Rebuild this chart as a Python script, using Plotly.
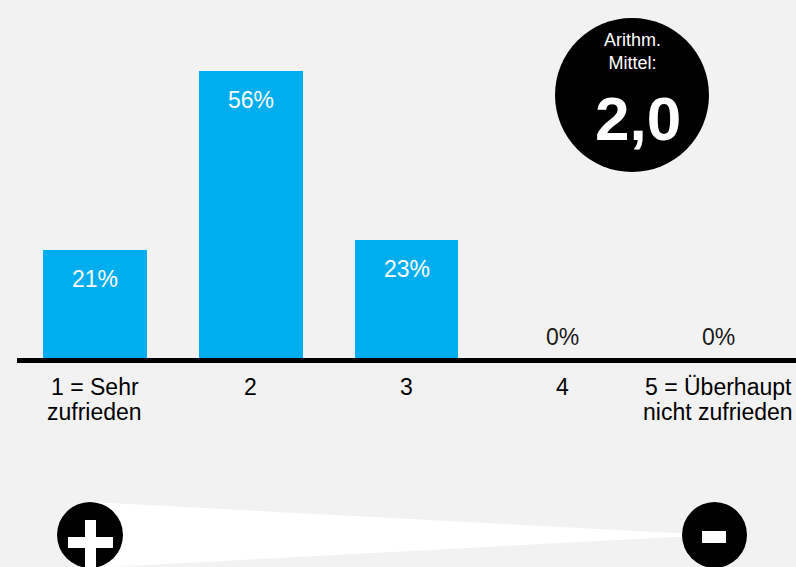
import plotly.graph_objects as go

# ---- data ----
categories = ["1 = Sehr<br>zufrieden", "2", "3", "4", "5 = Überhaupt<br>nicht zufrieden"]
scale_values = [1, 2, 3, 4, 5]
shares = [21, 56, 23, 0, 0]
mean_label = "Arithm.<br>Mittel:"

mean_value = sum(v * s for v, s in zip(scale_values, shares)) / sum(shares)
mean_text = f"{mean_value:.1f}".replace(".", ",")

W, H = 796, 567
L, R, T, B = 17, 0, 0, 209
PW, PH = W - L - R, H - T - B

BAR = "#00AEEF"
BG = "#F2F2F2"
FONT = "Liberation Sans, Arial, sans-serif"


def px(x):
    return (x - L) / PW


def py(y):
    return (H - B - y) / PH


x_idx = list(range(len(categories)))

fig = go.Figure()
fig.add_trace(go.Bar(
    x=x_idx, y=shares, width=0.667, marker=dict(color=BAR, line=dict(width=0)),
    hoverinfo="skip", showlegend=False,
))

annotations = []
for i, v in zip(x_idx, shares):
    if v > 0:
        annotations.append(dict(x=i, y=v, xref="x", yref="y", text=f"{v}%", showarrow=False,
                                yanchor="middle", yshift=-29,
                                font=dict(color="white", size=23, family=FONT)))
    else:
        annotations.append(dict(x=i, y=v, xref="x", yref="y", text=f"{v}%", showarrow=False,
                                yanchor="middle", yshift=21,
                                font=dict(color="#1a1a1a", size=23, family=FONT)))

# category labels (tight line spacing, one annotation per line)
for i, cat in zip(x_idx, categories):
    for k, line in enumerate(cat.split("<br>")):
        annotations.append(dict(x=i, y=0, xref="x", yref="y", text=line, showarrow=False,
                                xanchor="center", yanchor="middle", yshift=-29 - 24.5 * k,
                                font=dict(color="black", size=23, family=FONT)))

# mean circle texts
annotations.append(dict(x=px(632), y=py(52), xref="paper", yref="paper", text=mean_label,
                        showarrow=False, xanchor="center", yanchor="middle",
                        font=dict(color="white", size=18, family=FONT)))
annotations.append(dict(x=px(638), y=py(119), xref="paper", yref="paper", text=f"<b>{mean_text}</b>",
                        showarrow=False, xanchor="center", yanchor="middle",
                        font=dict(color="white", size=62, family=FONT)))

shapes = []
# axis baseline
shapes.append(dict(type="line", xref="paper", yref="paper", x0=px(17), x1=px(796),
                   y0=py(360.5), y1=py(360.5), line=dict(color="black", width=5)))
# mean circle
shapes.append(dict(type="circle", xref="paper", yref="paper",
                   x0=px(555), x1=px(709), y0=py(172), y1=py(18),
                   fillcolor="black", line=dict(width=0)))
# white wedge
wedge = f"M {px(90)},{py(502)} L {px(684)},{py(533.5)} L {px(684)},{py(536.5)} L {px(90)},{py(568)} Z"
shapes.append(dict(type="path", xref="paper", yref="paper", path=wedge,
                   fillcolor="white", line=dict(width=0)))
# plus circle
shapes.append(dict(type="circle", xref="paper", yref="paper",
                   x0=px(57), x1=px(123), y0=py(568), y1=py(502),
                   fillcolor="black", line=dict(width=0)))
shapes.append(dict(type="rect", xref="paper", yref="paper",
                   x0=px(85), x1=px(96), y0=py(567), y1=py(520),
                   fillcolor="white", line=dict(width=0)))
shapes.append(dict(type="rect", xref="paper", yref="paper",
                   x0=px(68), x1=px(113), y0=py(548), y1=py(537),
                   fillcolor="white", line=dict(width=0)))
# minus circle
shapes.append(dict(type="circle", xref="paper", yref="paper",
                   x0=px(682), x1=px(747), y0=py(568), y1=py(502),
                   fillcolor="black", line=dict(width=0)))
shapes.append(dict(type="rect", xref="paper", yref="paper",
                   x0=px(702), x1=px(726), y0=py(543), y1=py(531),
                   fillcolor="white", line=dict(width=0)))

ymax = 358 * 56 / 287

fig.update_layout(
    width=W, height=H,
    margin=dict(l=L, r=R, t=T, b=B, pad=0),
    paper_bgcolor=BG, plot_bgcolor=BG,
    bargap=0,
    xaxis=dict(range=[-0.5, 4.5], tickvals=x_idx, showticklabels=False, showgrid=False,
               zeroline=False, showline=False, fixedrange=True),
    yaxis=dict(range=[0, ymax], visible=False, fixedrange=True),
    annotations=annotations,
    shapes=shapes,
    font=dict(family=FONT),
)

fig.write_html("out.html", config={"displayModeBar": False},
               post_script="document.body.style.margin='0';document.body.style.padding='0';"
                           "document.body.style.background='#F2F2F2';")
